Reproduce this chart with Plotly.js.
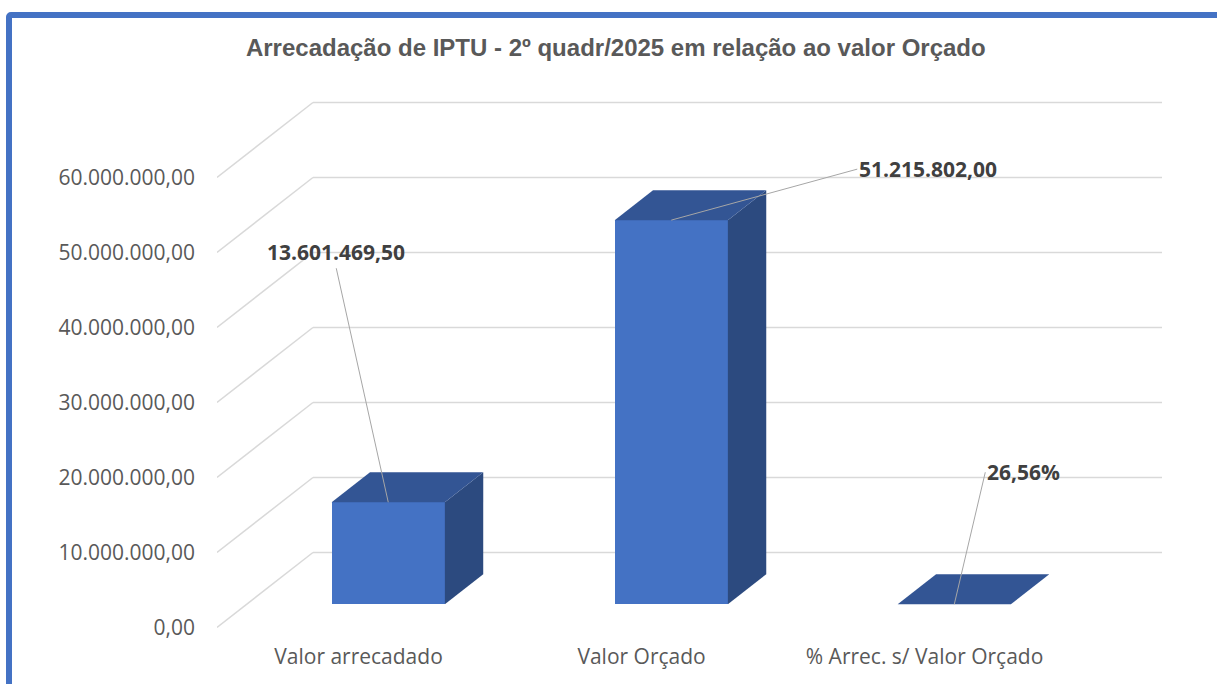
<!DOCTYPE html>
<html><head><meta charset="utf-8">
<script src="https://cdn.plot.ly/plotly-3.0.1.min.js"></script>
<style>
html,body{margin:0;padding:0;background:#fff;width:1217px;height:684px;overflow:hidden;}
#frame{position:absolute;left:6px;top:12px;width:1400px;height:900px;border:6px solid #4472c4;border-radius:5px;box-sizing:border-box;}
#chart{position:absolute;left:0;top:0;width:1217px;height:684px;}
</style></head><body>
<div id="frame"></div>
<div id="chart"></div>
<script>
// ---- data ----
const categories = ['Valor arrecadado', 'Valor Orçado', '% Arrec. s/ Valor Orçado'];
const values = [13601469.50, 51215802.00, 0.2656];
const valueIsPercent = [false, false, true];
const yTickVals = [0, 10000000, 20000000, 30000000, 40000000, 50000000, 60000000];
const titleText = 'Arrecadação de IPTU - 2º quadr/2025 em relação ao valor Orçado';

// ---- formatting ----
function fmt(v){
  const parts = v.toFixed(2).split('.');
  return parts[0].replace(/\B(?=(\d{3})+(?!\d))/g, '.') + ',' + parts[1];
}
const yTickText = yTickVals.map(fmt);
const labelText = values.map((v,i) => valueIsPercent[i] ? fmt(v*100) + '%' : fmt(v));

// ---- 3D projection style constants ----
const N = categories.length;
const DX = 0.339;      // x shift for full depth (category units)
const DY = 10000000;   // y shift for full depth (value units)
const F1 = 0.31, F2 = 0.71; // bar front/back depth fractions
const W = 0.4;         // bar width (category units)
const XMAX = N + DX;

const FRONT = '#4472c4', TOP = '#335594', SIDE = '#2c4a7f';

// gridlines (back wall + left wall diagonals)
const shapes = [];
yTickVals.forEach(v => {
  shapes.push({type:'line', xref:'x', yref:'y', layer:'below', x0:0, y0:v, x1:DX, y1:v+DY, line:{color:'#d9d9d9', width:1.5}});
  shapes.push({type:'line', xref:'x', yref:'y', layer:'below', x0:DX, y0:v+DY, x1:XMAX, y1:v+DY, line:{color:'#d9d9d9', width:1.5}});
});

const traces = [];
// front faces
traces.push({
  type:'bar',
  x: values.map((v,i) => i + 0.5 + F1*DX),
  y: values,
  base: values.map(() => F1*DY),
  width: values.map(() => W),
  marker:{color:FRONT, line:{width:0}},
  hoverinfo:'skip', showlegend:false
});
// top and side faces
values.forEach((v,i) => {
  const x0 = i + 0.5 - W/2, x1 = i + 0.5 + W/2;
  traces.push({
    type:'scatter', mode:'lines', fill:'toself', fillcolor:SIDE, line:{width:0, color:SIDE},
    x:[x1+F1*DX, x1+F2*DX, x1+F2*DX, x1+F1*DX, x1+F1*DX],
    y:[F1*DY, F2*DY, F2*DY+v, F1*DY+v, F1*DY],
    hoverinfo:'skip', showlegend:false
  });
  traces.push({
    type:'scatter', mode:'lines', fill:'toself', fillcolor:TOP, line:{width:0, color:TOP},
    x:[x0+F1*DX, x1+F1*DX, x1+F2*DX, x0+F2*DX, x0+F1*DX],
    y:[F1*DY+v, F1*DY+v, F2*DY+v, F2*DY+v, F1*DY+v],
    hoverinfo:'skip', showlegend:false
  });
});

// data labels with leader lines
const labelOffsets = [
  {ax:-52, ay:-234, xanchor:'center', yanchor:'bottom'},
  {ax:186, ay:-51, xanchor:'left', yanchor:'middle'},
  {ax:31, ay:-132, xanchor:'left', yanchor:'middle'}
];
const annotations = values.map((v,i) => Object.assign({
  x: i + 0.5 + F1*DX, y: F1*DY + v, xref:'x', yref:'y',
  text: '<b>' + labelText[i] + '</b>',
  showarrow:true, arrowhead:0, arrowwidth:1, arrowcolor:'#a6a6a6', standoff:0, startstandoff:0,
  font:{family:'Open Sans, sans-serif', size:21, color:'#404040'}
}, labelOffsets[i]));

const layout = {
  width:1217, height:684,
  paper_bgcolor:'rgba(0,0,0,0)', plot_bgcolor:'rgba(0,0,0,0)',
  margin:{l:217, r:55, t:95, b:49, pad:0},
  title:{text:'<b>' + titleText + '</b>', x:0.506, xref:'container', xanchor:'center', y:1-48/684, yref:'container', yanchor:'middle',
    font:{family:'Liberation Sans, Arial, sans-serif', size:24, color:'#595959'}},
  xaxis:{range:[0, XMAX], showgrid:false, zeroline:false, showline:false, ticks:'',
    tickmode:'array', tickvals: categories.map((c,i) => i + 0.5), ticktext: categories,
    tickfont:{family:'Open Sans, sans-serif', size:21, color:'#595959'}, ticklabelstandoff:7, fixedrange:true},
  yaxis:{range:[-1000000, 71000000], showgrid:false, zeroline:false, showline:false, ticks:'',
    tickmode:'array', tickvals: yTickVals, ticktext: yTickText,
    tickfont:{family:'Open Sans, sans-serif', size:21, color:'#595959'}, ticklabelstandoff:21, fixedrange:true},
  shapes: shapes,
  annotations: annotations,
  showlegend:false,
  bargap:0
};

Plotly.newPlot('chart', traces, layout, {displayModeBar:false, staticPlot:true});
</script>
</body></html>
